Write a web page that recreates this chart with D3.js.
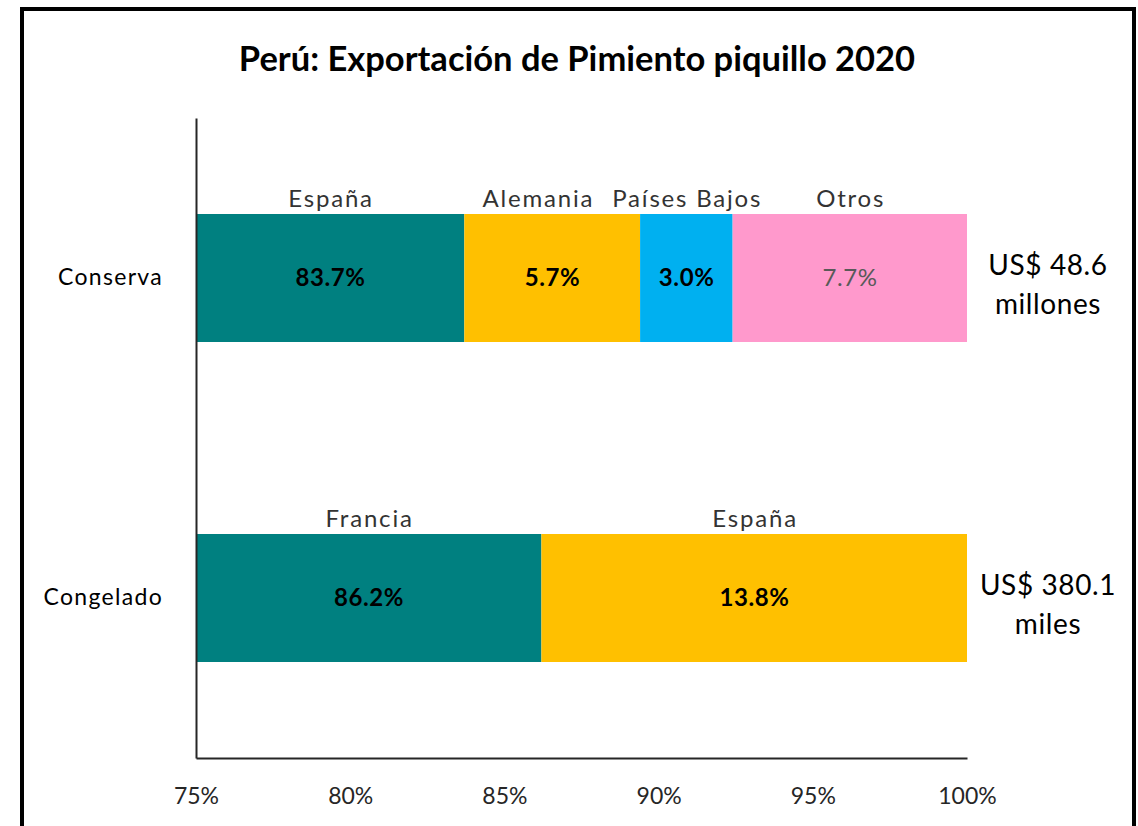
<!DOCTYPE html>
<html>
<head>
<meta charset="utf-8">
<style>
  body { margin: 0; background: #fff; }
  svg text { font-family: Lato, "Open Sans", sans-serif; }
</style>
<script src="https://cdn.jsdelivr.net/npm/d3@7"></script>
</head>
<body>
<svg id="chart" width="1138" height="826"></svg>
<script>
// data
var categories = ['Conserva', 'Congelado'];
var conservaCountries = ['España', 'Alemania', 'Países Bajos', 'Otros'];
var conservaValues = [83.7, 5.7, 3.0, 7.7];
var congeladoCountries = ['Francia', 'España'];
var congeladoValues = [86.2, 13.8];
var totals = [['US$ 48.6', 'millones'], ['US$ 380.1', 'miles']];
var xTicks = [75, 80, 85, 90, 95, 100];
var title = 'Perú: Exportación de Pimiento piquillo 2020';

var colors = ['#008080', '#FFC000', '#00B0F0', '#FF99CC'];

var svg = d3.select('#chart');

// frame
svg.append('rect')
    .attr('x', 22).attr('y', 9)
    .attr('width', 1112).attr('height', 840)
    .attr('fill', 'none').attr('stroke', '#000').attr('stroke-width', 4);

svg.append('text')
    .attr('x', 577).attr('y', 71)
    .attr('text-anchor', 'middle')
    .attr('font-size', 34.5).attr('font-weight', 'bold')
    .attr('fill', '#000')
    .text(title);

var x = d3.scaleLinear().domain([75, 100]).range([196, 967]).clamp(true);
var y = d3.scaleBand().domain(categories).range([118, 758])
    .paddingInner(0.6).paddingOuter(0.3);

// build stacked segments
var rows = [
    {cat: 'Conserva', names: conservaCountries, vals: conservaValues},
    {cat: 'Congelado', names: congeladoCountries, vals: congeladoValues}
];
var segs = [];
rows.forEach(function(r) {
    var cum = 0;
    r.vals.forEach(function(v, i) {
        segs.push({cat: r.cat, name: r.names[i], value: v, x0: cum, x1: cum + v, i: i});
        cum += v;
    });
});

var g = svg.append('g');
g.selectAll('rect.seg').data(segs).enter().append('rect')
    .attr('class', 'seg')
    .attr('x', function(d) { return x(d.x0); })
    .attr('width', function(d) { return x(d.x1) - x(d.x0); })
    .attr('y', function(d) { return y(d.cat); })
    .attr('height', y.bandwidth())
    .attr('fill', function(d) { return colors[d.i]; });

// value labels
g.selectAll('text.val').data(segs).enter().append('text')
    .attr('class', 'val')
    .attr('x', function(d) { return (x(d.x0) + x(d.x1)) / 2; })
    .attr('y', function(d) { return y(d.cat) + y.bandwidth() / 2; })
    .attr('dy', '0.35em')
    .attr('dx', 0.3)
    .attr('text-anchor', 'middle')
    .attr('font-size', 24)
    .attr('letter-spacing', 0.6)
    .attr('font-weight', function(d) { return d.name == 'Otros' ? 'normal' : 'bold'; })
    .attr('fill', function(d) { return d.name == 'Otros' ? '#595959' : '#000'; })
    .text(function(d) { return d.value.toFixed(1) + '%'; });

// country names above bars
var names = g.selectAll('text.name').data(segs).enter().append('text')
    .attr('class', 'name')
    .attr('x', function(d) { return (x(d.x0) + x(d.x1)) / 2 + 0.9; })
    .attr('y', function(d) { return y(d.cat) - 7; })
    .attr('text-anchor', 'middle')
    .attr('font-size', 24)
    .attr('letter-spacing', 1.8)
    .attr('fill', '#333')
    .text(function(d) { return d.name; });

// push overlapping names apart (shift the left one)
categories.forEach(function(c) {
    var nodes = names.filter(function(d) { return d.cat == c; }).nodes();
    for (var k = nodes.length - 2; k >= 0; k--) {
        var a = nodes[k].getBBox(), b = nodes[k + 1].getBBox();
        var gap = b.x - (a.x + a.width);
        if (gap < 18) {
            var cur = +d3.select(nodes[k]).attr('x');
            d3.select(nodes[k]).attr('x', cur - (18 - gap));
        }
    }
});

// totals on the right
categories.forEach(function(c, i) {
    var cy = y(c) + y.bandwidth() / 2;
    svg.append('text')
        .attr('x', 1048).attr('y', cy - 13).attr('dy', '0.35em')
        .attr('text-anchor', 'middle').attr('font-size', 28).attr('letter-spacing', 0.6)
        .attr('fill', '#000')
        .text(totals[i][0]);
    svg.append('text')
        .attr('x', 1048).attr('y', cy + 26).attr('dy', '0.35em')
        .attr('text-anchor', 'middle').attr('font-size', 28).attr('letter-spacing', 0.6)
        .attr('fill', '#000')
        .text(totals[i][1]);
});

// axes
var xAxis = d3.axisBottom(x).tickValues(xTicks).tickSize(0).tickPadding(30)
    .tickFormat(function(d) { return d + '%'; });
var xg = svg.append('g').attr('transform', 'translate(0,758)').call(xAxis);
xg.select('.domain').attr('stroke', '#262626').attr('stroke-width', 2);
xg.selectAll('text').attr('font-size', 23).attr('fill', '#262626')
    .style('font-family', 'Lato, sans-serif');

var yAxis = d3.axisLeft(y).tickSize(0).tickPadding(33);
var yg = svg.append('g').attr('transform', 'translate(196,0)').call(yAxis);
yg.select('.domain').attr('stroke', '#262626').attr('stroke-width', 2);
yg.selectAll('text').attr('font-size', 23).attr('letter-spacing', 1.3).attr('fill', '#000')
    .style('font-family', 'Lato, sans-serif');
</script>
</body>
</html>
